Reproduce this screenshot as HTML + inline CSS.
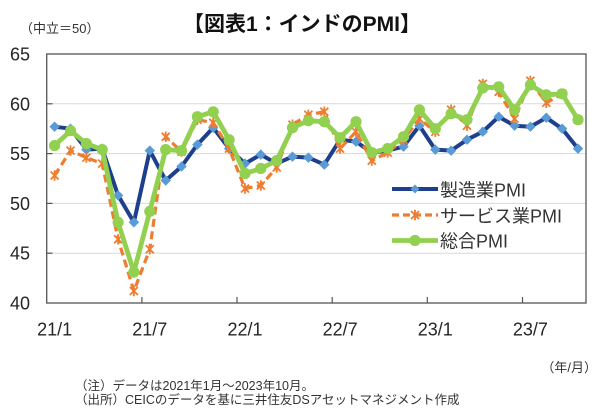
<!DOCTYPE html>
<html>
<head>
<meta charset="utf-8">
<style>
  html, body { margin:0; padding:0; background:#ffffff; }
  body { width:600px; height:414px; overflow:hidden; }
  svg { display:block; }
  text { font-family: "Liberation Sans", "Noto Sans CJK JP", sans-serif; }
</style>
</head>
<body>
<svg width="600" height="414" viewBox="0 0 600 414" xmlns="http://www.w3.org/2000/svg">
  <defs>
    <marker id="mDia" markerUnits="userSpaceOnUse" markerWidth="12" markerHeight="12" refX="6" refY="6" overflow="visible">
      <path d="M6,1.2 L10.8,6 L6,10.8 L1.2,6 Z" fill="#5b9bd5" stroke="#5b9bd5" stroke-width="0.6"/>
    </marker>
    <marker id="mStar" markerUnits="userSpaceOnUse" markerWidth="12" markerHeight="12" refX="6" refY="6" overflow="visible">
      <path d="M2,2 L10,10 M10,2 L2,10 M6,0.8 L6,11.2" stroke="#ed7d31" stroke-width="1.8" fill="none"/>
    </marker>
    <marker id="mCir" markerUnits="userSpaceOnUse" markerWidth="14" markerHeight="14" refX="7" refY="7" overflow="visible">
      <circle cx="7" cy="7" r="5.6" fill="#92d050"/>
    </marker>
  </defs>

  <rect x="0" y="0" width="600" height="414" fill="#ffffff"/>

  <!-- Title -->
  <text x="302" y="31" font-size="21" font-weight="bold" text-anchor="middle" fill="#111">【図表1：インドのPMI】</text>
  <text x="20" y="33" font-size="13" fill="#333">（中立＝50）</text>

  <!-- gridlines -->
  <g stroke="#d9d9d9" stroke-width="1">
    <line x1="46.7" y1="103.8" x2="586" y2="103.8"/>
    <line x1="46.7" y1="153.6" x2="586" y2="153.6"/>
    <line x1="46.7" y1="203.4" x2="586" y2="203.4"/>
    <line x1="46.7" y1="253.2" x2="586" y2="253.2"/>
  </g>

  <!-- frame -->
  <rect x="46.7" y="54" width="539.3" height="249" fill="none" stroke="#555" stroke-width="1.3"/>

  <!-- ticks -->
  <g stroke="#555" stroke-width="1.2">
    <line x1="46.7" y1="103.8" x2="52.5" y2="103.8"/>
    <line x1="46.7" y1="153.6" x2="52.5" y2="153.6"/>
    <line x1="46.7" y1="203.4" x2="52.5" y2="203.4"/>
    <line x1="46.7" y1="253.2" x2="52.5" y2="253.2"/>
    <line x1="141.9" y1="303" x2="141.9" y2="297"/>
    <line x1="237.0" y1="303" x2="237.0" y2="297"/>
    <line x1="332.2" y1="303" x2="332.2" y2="297"/>
    <line x1="427.3" y1="303" x2="427.3" y2="297"/>
    <line x1="522.5" y1="303" x2="522.5" y2="297"/>
  </g>

  <!-- y labels -->
  <g font-size="18" fill="#262626" text-anchor="end">
    <text x="30" y="60.5">65</text>
    <text x="30" y="110.3">60</text>
    <text x="30" y="160.1">55</text>
    <text x="30" y="209.9">50</text>
    <text x="30" y="259.7">45</text>
    <text x="30" y="309.5">40</text>
  </g>

  <!-- x labels -->
  <g font-size="18" fill="#262626" text-anchor="middle">
    <text x="54.6" y="335.5">21/1</text>
    <text x="149.8" y="335.5">21/7</text>
    <text x="245.0" y="335.5">22/1</text>
    <text x="340.1" y="335.5">22/7</text>
    <text x="435.3" y="335.5">23/1</text>
    <text x="530.4" y="335.5">23/7</text>
  </g>

  <!-- series -->
  <g transform="translate(0,0.5)">
    <polyline fill="none" stroke="#1d3f8c" stroke-width="4" stroke-linejoin="round"
      marker-start="url(#mDia)" marker-mid="url(#mDia)" marker-end="url(#mDia)"
      points="54.6,126.2 70.5,128.2 86.4,149.1 102.2,148.1 118.1,194.9 133.9,221.8 149.8,150.1 165.7,180.0 181.5,166.0 197.4,144.1 213.2,127.2 229.1,148.1 245.0,163.1 260.8,154.1 276.7,163.1 292.5,156.1 308.4,157.1 324.3,164.1 340.1,139.2 356.0,141.1 371.8,152.1 387.7,150.1 403.5,146.1 419.4,125.2 435.3,149.1 451.1,150.1 467.0,139.2 482.8,131.2 498.7,116.2 514.6,125.2 530.4,126.2 546.3,117.2 562.1,128.2 578.0,148.1"/>
    <polyline fill="none" stroke="#ed7d31" stroke-width="3.2" stroke-dasharray="8,4.5" stroke-linejoin="round"
      marker-start="url(#mStar)" marker-mid="url(#mStar)" marker-end="url(#mStar)"
      points="54.6,175.0 70.5,150.1 86.4,157.1 102.2,163.1 118.1,238.8 133.9,290.5 149.8,248.7 165.7,136.2 181.5,151.1 197.4,119.2 213.2,122.2 229.1,148.1 245.0,188.0 260.8,185.0 276.7,167.0 292.5,124.2 308.4,114.3 324.3,111.3 340.1,148.1 356.0,131.2 371.8,160.1 387.7,152.1 403.5,139.2 419.4,118.2 435.3,131.2 451.1,109.3 467.0,125.2 482.8,83.4 498.7,91.3 514.6,118.2 530.4,80.4 546.3,102.3 562.1,93.3 578.0,119.2"/>
    <polyline fill="none" stroke="#92d050" stroke-width="4.8" stroke-linejoin="round"
      marker-start="url(#mCir)" marker-mid="url(#mCir)" marker-end="url(#mCir)"
      points="54.6,145.1 70.5,130.2 86.4,143.1 102.2,149.1 118.1,221.8 133.9,271.6 149.8,210.9 165.7,149.1 181.5,150.1 197.4,116.2 213.2,111.3 229.1,139.2 245.0,173.0 260.8,168.0 276.7,160.1 292.5,127.2 308.4,120.2 324.3,121.2 340.1,137.2 356.0,121.2 371.8,152.1 387.7,148.1 403.5,136.2 419.4,109.3 435.3,128.2 451.1,113.3 467.0,119.2 482.8,87.4 498.7,86.4 514.6,109.3 530.4,84.4 546.3,94.3 562.1,93.3 578.0,119.2"/>
  </g>

  <!-- legend -->
  <line x1="392" y1="189" x2="438" y2="189" stroke="#1d3f8c" stroke-width="4" marker-mid="url(#mDia)"/>
  <path d="M415,184.5 L419.5,189 L415,193.5 L410.5,189 Z" fill="#5b9bd5"/>
  <line x1="392" y1="215" x2="438" y2="215" stroke="#ed7d31" stroke-width="3.2" stroke-dasharray="7,4"/>
  <path d="M411,211 L419,219 M419,211 L411,219 M415,209.8 L415,220.2" stroke="#ed7d31" stroke-width="1.8" fill="none"/>
  <line x1="392" y1="240.5" x2="438" y2="240.5" stroke="#92d050" stroke-width="4.8"/>
  <circle cx="415" cy="240.5" r="5.6" fill="#92d050"/>
  <g font-size="18" fill="#333">
    <text x="440" y="196.5">製造業PMI</text>
    <text x="440" y="222.5">サービス業PMI</text>
    <text x="440" y="247.5">総合PMI</text>
  </g>

  <!-- axis unit & notes -->
  <text x="597" y="372" font-size="13" fill="#333" text-anchor="end">（年/月）</text>
  <text x="75" y="390" font-size="12.5" fill="#333">（注）データは2021年1月～2023年10月。</text>
  <text x="75" y="404" font-size="12.5" fill="#333">（出所）CEICのデータを基に三井住友DSアセットマネジメント作成</text>
</svg>
</body>
</html>
